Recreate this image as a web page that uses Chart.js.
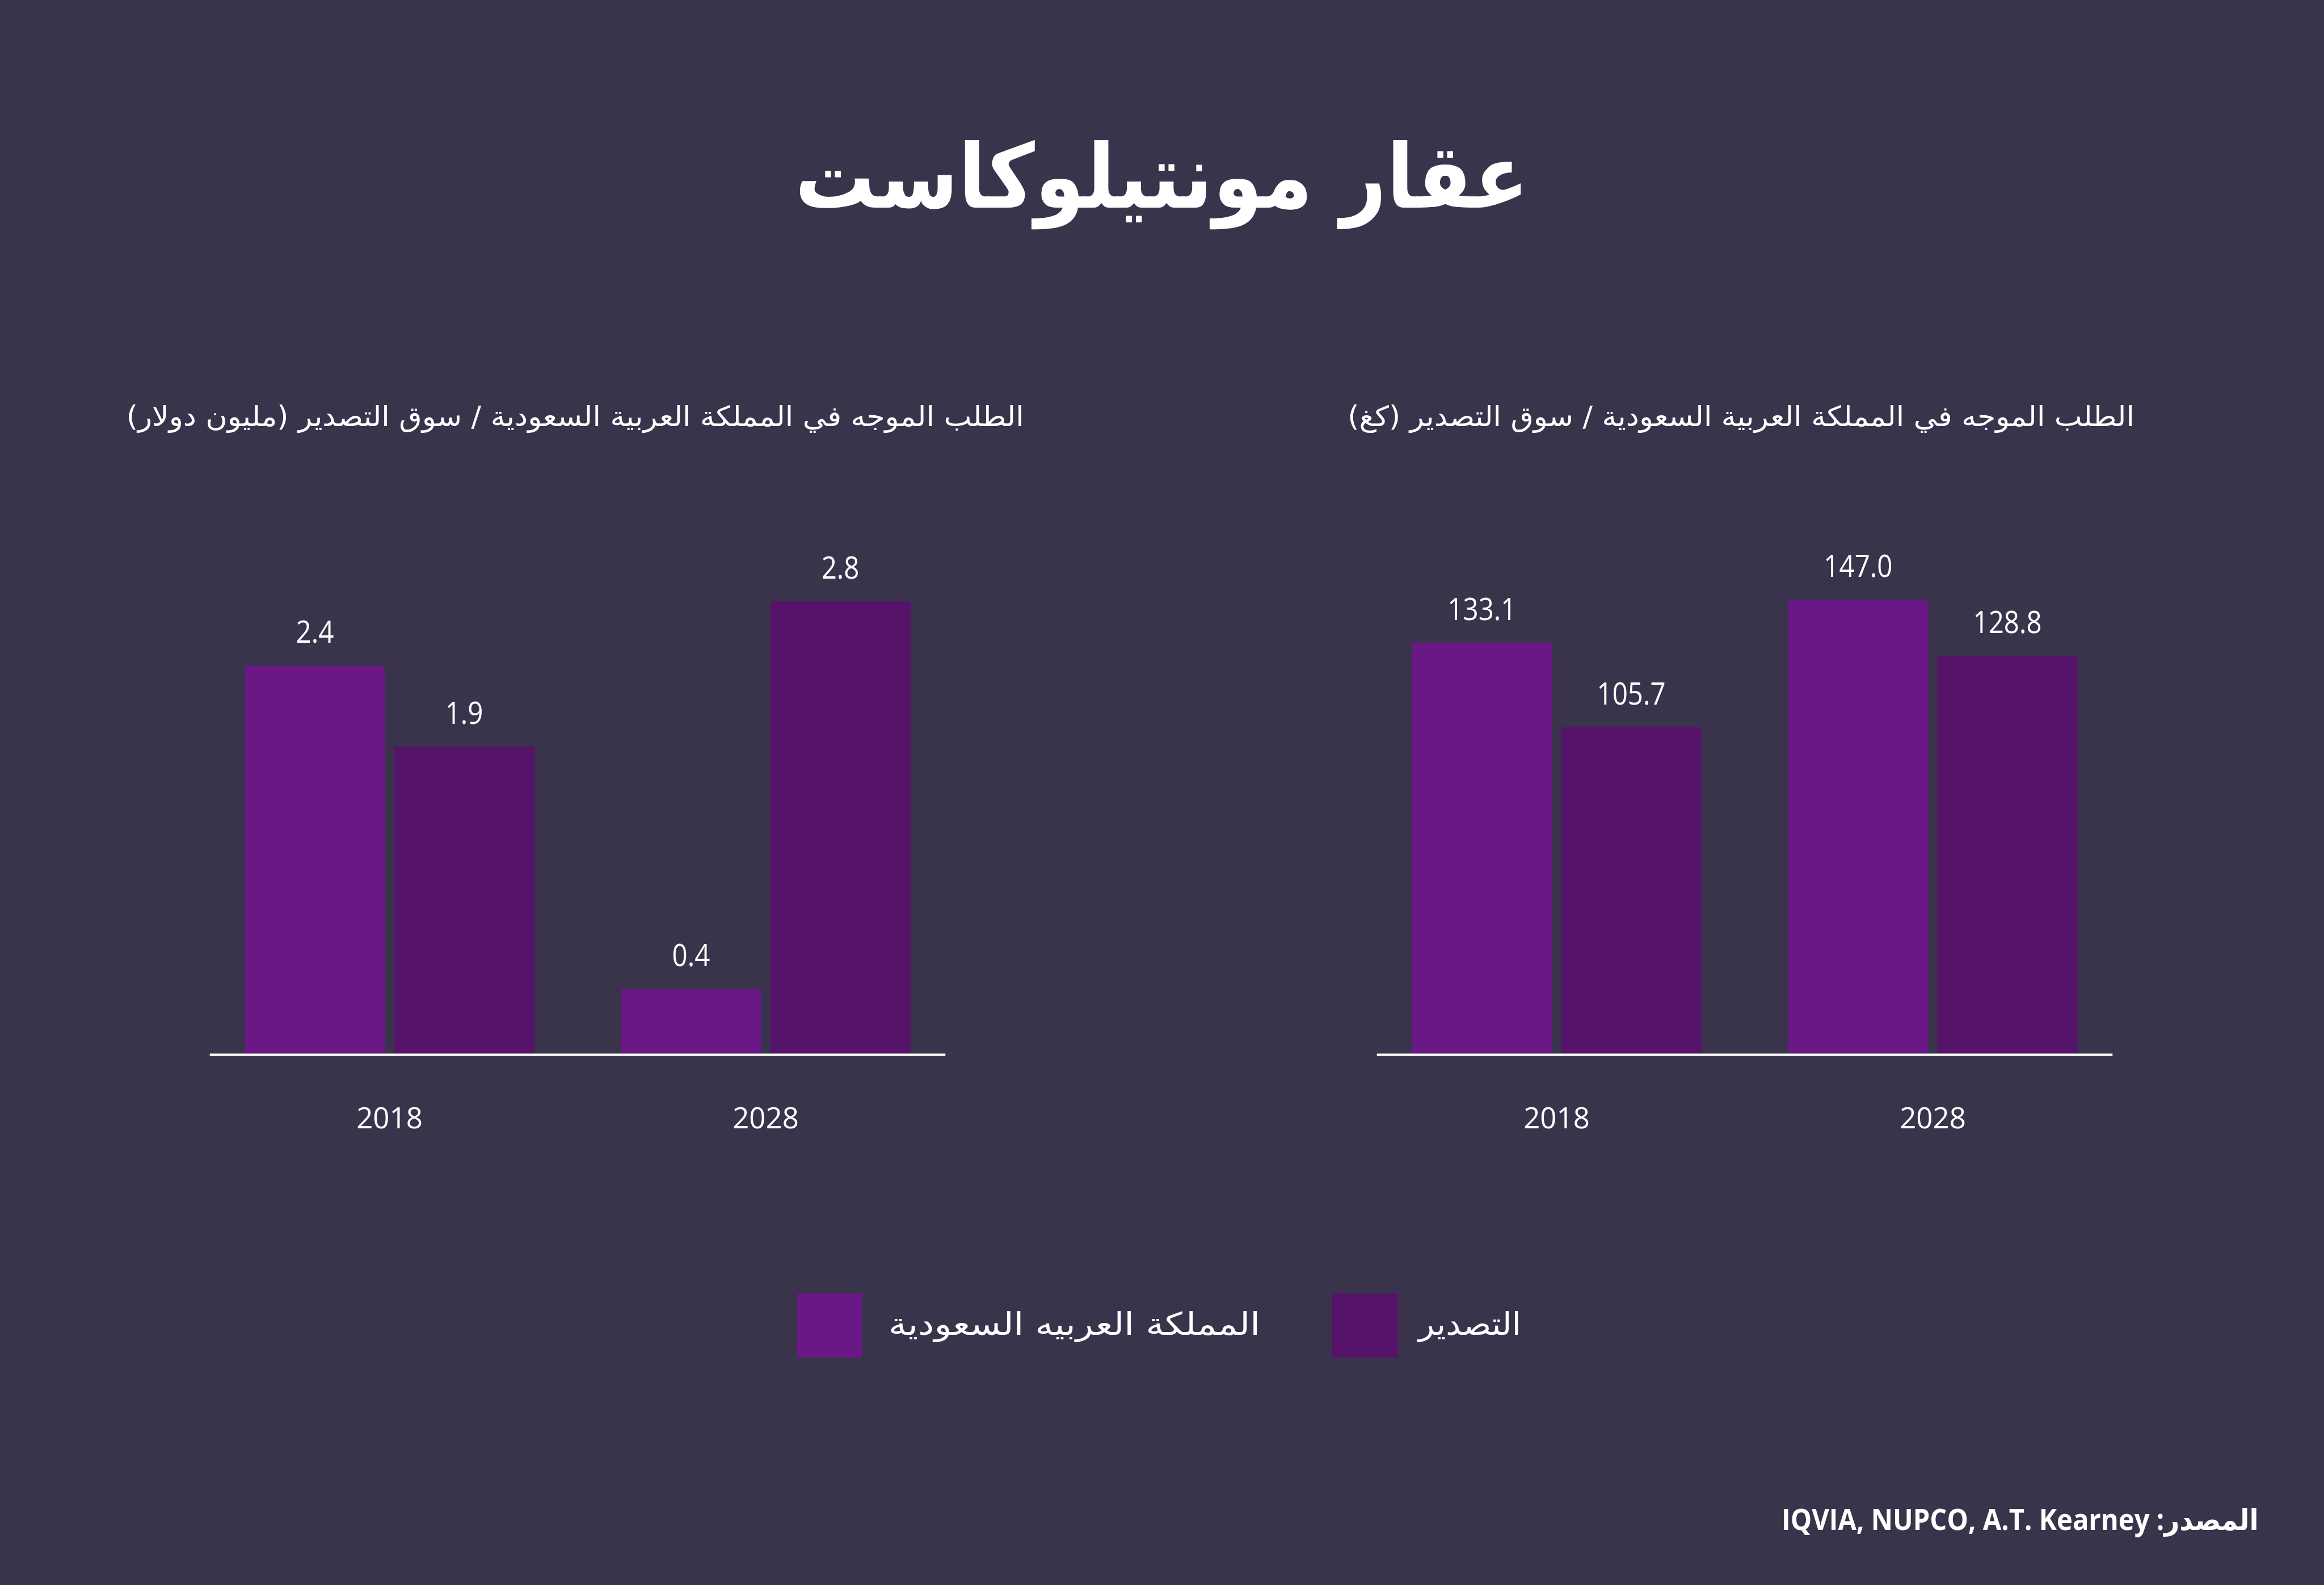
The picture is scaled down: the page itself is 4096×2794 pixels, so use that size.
<!DOCTYPE html>
<html lang="ar">
<head>
<meta charset="utf-8">
<script src="https://cdn.jsdelivr.net/npm/chart.js@4.4.1/dist/chart.umd.min.js"></script>
<style>
  html, body { margin: 0; padding: 0; background: #39344c; }
  #page { position: relative; width: 4096px; height: 2794px; overflow: hidden; background: #39344c; color: #fff; }
  .txt { position: absolute; white-space: nowrap; line-height: 1; transform-origin: 50% 50%; }
  .swatch { position: absolute; }
  canvas { position: absolute; }
</style>
</head>
<body>
<div id="page">
  <div id="title" class="txt" dir="rtl">عقار مونتيلوكاست</div>
  <div id="sub-usd" class="txt" dir="rtl">الطلب الموجه في المملكة العربية السعودية / سوق التصدير (مليون دولار)</div>
  <div id="sub-kg" class="txt" dir="rtl">الطلب الموجه في المملكة العربية السعودية / سوق التصدير (كغ)</div>
  <canvas id="chart-usd"></canvas>
  <canvas id="chart-kg"></canvas>
  <div id="sw-ksa" class="swatch"></div>
  <div id="lg-ksa" class="txt" dir="rtl"></div>
  <div id="sw-exp" class="swatch"></div>
  <div id="lg-exp" class="txt" dir="rtl"></div>
  <div id="source" class="txt" dir="rtl">المصدر: IQVIA, NUPCO, A.T. Kearney</div>
</div>
<script>
// ── Datos ──────────────────────────────────────────────────────────────────
const years       = ['2018', '2028'];
const seriesNames = ['المملكة العربيه السعودية', 'التصدير'];
const usdKsa      = [2.4, 0.4];
const usdExport   = [1.9, 2.8];
const kgKsa       = [133.1, 147.0];
const kgExport    = [105.7, 128.8];

const S = 0.982;                 // reference px -> window px
const COL_KSA = '#691885';
const COL_EXP = '#56136a';
const NUM_FONT = '"Open Sans", "DejaVu Sans", sans-serif';
const AR_FONT  = '"DejaVu Sans", sans-serif';

// baseline position inside a line-height:1 box, per font
const BASE = { dejavu: 0.846, open: 0.888 };

// ── Texto ──────────────────────────────────────────────────────────────────
function placeText(id, o) {
  const el = document.getElementById(id);
  if (o.text) el.textContent = o.text;
  el.style.fontFamily = o.family;
  el.style.fontWeight = o.weight || 'normal';
  el.style.fontSize = (o.size * S) + 'px';
  el.style.top = ((o.base - o.size * o.ratio) * S) + 'px';
  const w = el.getBoundingClientRect().width;
  const k = o.width ? (o.width * S) / w : 1;
  let left;
  if (o.align === 'center') left = o.x * S - w / 2;
  else if (o.align === 'right') left = o.x * S - w;
  else left = o.x * S;
  el.style.left = left + 'px';
  el.style.transform = `scaleX(${k})`;
  el.style.transformOrigin = o.align === 'center' ? '50% 50%' : (o.align === 'right' ? '100% 50%' : '0 50%');
}

function box(id, x, y, w, h, color) {
  const el = document.getElementById(id);
  Object.assign(el.style, {
    left: (x * S) + 'px', top: (y * S) + 'px',
    width: (w * S) + 'px', height: (h * S) + 'px', background: color
  });
}

// ── Etiquetas sobre las barras ─────────────────────────────────────────────
const valueLabels = {
  id: 'valueLabels',
  afterDatasetsDraw(chart) {
    const { ctx } = chart;
    chart.data.datasets.forEach((ds, i) => {
      chart.getDatasetMeta(i).data.forEach((bar, j) => {
        ctx.save();
        ctx.fillStyle = '#ffffff';
        ctx.font = `${55 * S}px ${NUM_FONT}`;
        ctx.textAlign = 'center';
        ctx.textBaseline = 'alphabetic';
        ctx.translate(bar.x, bar.y - 41 * S);
        ctx.scale(0.88, 1);          // letra algo más estrecha, como el original
        ctx.fillText(ds.data[j].toFixed(1), 0, 0);
        ctx.restore();
      });
    });
  }
};

// ── Línea base (un poco más corta que el área de la gráfica) ───────────────
const baseLine = {
  id: 'baseLine',
  afterDatasetsDraw(chart) {
    const { ctx, chartArea: a } = chart;
    ctx.save();
    ctx.strokeStyle = '#ffffff';
    ctx.lineWidth = 4 * S;
    ctx.beginPath();
    ctx.moveTo(a.left + 15 * S, a.bottom + 2 * S);
    ctx.lineTo(a.right - 15 * S, a.bottom + 2 * S);
    ctx.stroke();
    ctx.restore();
  }
};

// ── Gráficas ───────────────────────────────────────────────────────────────
const CANVAS_TOP = 900, CANVAS_BOTTOM = 2060;
const AREA_TOP = 1021, AREA_BOTTOM = 1891;

function makeChart(id, left, right, ksa, exp, yMax) {
  const canvas = document.getElementById(id);
  canvas.width = Math.round((right - left) * S);
  canvas.height = Math.round((CANVAS_BOTTOM - CANVAS_TOP) * S);
  canvas.style.left = (left * S) + 'px';
  canvas.style.top = (CANVAS_TOP * S) + 'px';
  const chart = new Chart(canvas.getContext('2d'), {
    type: 'bar',
    data: {
      labels: years,
      datasets: [
        { label: seriesNames[0], data: ksa, backgroundColor: COL_KSA },
        { label: seriesNames[1], data: exp, backgroundColor: COL_EXP }
      ]
    },
    options: {
      responsive: false,
      animation: false,
      devicePixelRatio: 1,
      layout: { padding: { top: (AREA_TOP - CANVAS_TOP) * S, bottom: 20 * S, left: 0, right: 0 } },
      datasets: { bar: { categoryPercentage: 0.794, barPercentage: 0.94 } },
      plugins: { legend: { display: false }, tooltip: { enabled: false } },
      scales: {
        x: {
          grid: { display: false },
          border: { display: false },
          ticks: { color: '#ffffff', padding: 80 * S, font: { family: NUM_FONT, size: 52 * S, lineHeight: 1.2 } }
        },
        y: { display: false, min: 0, max: yMax }
      }
    },
    plugins: [baseLine, valueLabels]
  });
  // ajustar el área para que la base quede donde está en la referencia
  const pad = chart.options.layout.padding;
  pad.top += (AREA_TOP - CANVAS_TOP) * S - chart.chartArea.top;
  pad.bottom += chart.chartArea.bottom - (AREA_BOTTOM - CANVAS_TOP) * S;
  chart.update();
  return chart;
}

function render() {
  placeText('title',   { family: AR_FONT, weight: 'bold', size: 160, ratio: BASE.dejavu, base: 373, x: 2085, align: 'center', width: 1317 });
  placeText('sub-usd', { family: AR_FONT, size: 50, ratio: BASE.dejavu, base: 765, x: 1032, align: 'center', width: 1611 });
  placeText('sub-kg',  { family: AR_FONT, size: 50, ratio: BASE.dejavu, base: 765, x: 3125, align: 'center', width: 1412 });

  makeChart('chart-usd', 361, 1711, usdKsa, usdExport, 3.0);
  makeChart('chart-kg', 2456, 3806, kgKsa, kgExport, 157);

  box('sw-ksa', 1431, 2322, 116, 115, COL_KSA);
  box('sw-exp', 2391, 2322, 118, 115, COL_EXP);
  placeText('lg-ksa', { text: seriesNames[0], family: AR_FONT, size: 56, ratio: BASE.dejavu, base: 2397, x: 1595, align: 'left', width: 667 });
  placeText('lg-exp', { text: seriesNames[1], family: AR_FONT, size: 56, ratio: BASE.dejavu, base: 2397, x: 2546, align: 'left', width: 184 });

  placeText('source', { family: NUM_FONT, weight: 'bold', size: 52, ratio: BASE.open, base: 2747, x: 4054, align: 'right', width: 856 });
}

document.fonts.ready.then(render);
</script>
</body>
</html>
